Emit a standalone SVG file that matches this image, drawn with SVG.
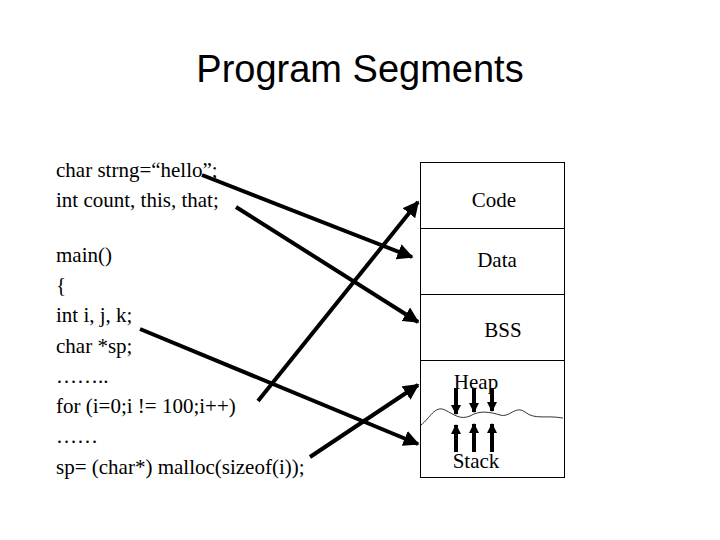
<svg xmlns="http://www.w3.org/2000/svg" width="720" height="540" viewBox="0 0 720 540">
<style>
.t{font-family:"Liberation Serif",serif;font-size:21px;fill:#000}
.c{stroke:#000;stroke-width:4;fill:none}
.s{stroke:#000;stroke-width:4}
</style>
<defs>
<marker id="a" viewBox="0 0 10 10" refX="9" refY="5" markerWidth="4" markerHeight="4" orient="auto" markerUnits="strokeWidth"><path d="M0,0L10,5L0,10z" fill="#000"/></marker>
<marker id="b" viewBox="0 0 10 10" refX="9" refY="5" markerWidth="2.5" markerHeight="2.5" orient="auto" markerUnits="strokeWidth"><path d="M0,0L10,5L0,10z" fill="#000"/></marker>
</defs>
<rect width="720" height="540" fill="#fff"/>
<text x="360" y="82" text-anchor="middle" font-family="Liberation Sans,sans-serif" font-size="38">Program Segments</text>
<g id="code-text" class="t">
<text x="56" y="177">char strng=“hello”;</text>
<text x="56" y="207">int count, this, that;</text>
<text x="56" y="262">main()</text>
<text x="56" y="292">{</text>
<text x="56" y="322">int i, j, k;</text>
<text x="56" y="353">char *sp;</text>
<text x="56" y="383">……..</text>
<text x="56" y="413">for (i=0;i != 100;i++)</text>
<text x="56" y="443">……</text>
<text x="56" y="474">sp= (char*) malloc(sizeof(i));</text>
</g>
<g id="memory">
<rect x="420.5" y="162.5" width="144" height="315" fill="none" stroke="#000"/>
<line x1="420" y1="228.5" x2="564" y2="228.5" stroke="#000"/>
<line x1="420" y1="294.5" x2="564" y2="294.5" stroke="#000"/>
<line x1="420" y1="360.5" x2="564" y2="360.5" stroke="#000"/>
<path d="M421,425 C430,418 435,405 445,410 C455,415 460,420 470,416 C480,410 490,412 500,415 C510,418 515,405 525,412 C535,420 545,415 563,418" fill="none" stroke="#000" stroke-width="0.8"/>
<text class="t" x="494" y="207" text-anchor="middle">Code</text>
<text class="t" x="497" y="267" text-anchor="middle">Data</text>
<text class="t" x="503" y="337" text-anchor="middle">BSS</text>
<text class="t" x="476" y="389" text-anchor="middle">Heap</text>
<text class="t" x="476" y="468" text-anchor="middle">Stack</text>
<line class="s" x1="456" y1="388" x2="456" y2="414" marker-end="url(#b)"/>
<line class="s" x1="474" y1="388" x2="474" y2="412" marker-end="url(#b)"/>
<line class="s" x1="492" y1="388" x2="492" y2="411" marker-end="url(#b)"/>
<line class="s" x1="456" y1="452" x2="456" y2="425" marker-end="url(#b)"/>
<line class="s" x1="474" y1="452" x2="474" y2="424" marker-end="url(#b)"/>
<line class="s" x1="492" y1="452" x2="492" y2="424" marker-end="url(#b)"/>
</g>
<g id="connectors">
<line class="c" x1="202" y1="175" x2="412" y2="257" marker-end="url(#a)"/>
<line class="c" x1="236" y1="207" x2="418" y2="322" marker-end="url(#a)"/>
<line class="c" x1="140" y1="329" x2="418" y2="444" marker-end="url(#a)"/>
<line class="c" x1="258" y1="401" x2="418" y2="202" marker-end="url(#a)"/>
<line class="c" x1="310" y1="457" x2="418" y2="385" marker-end="url(#a)"/>
</g>
</svg>
